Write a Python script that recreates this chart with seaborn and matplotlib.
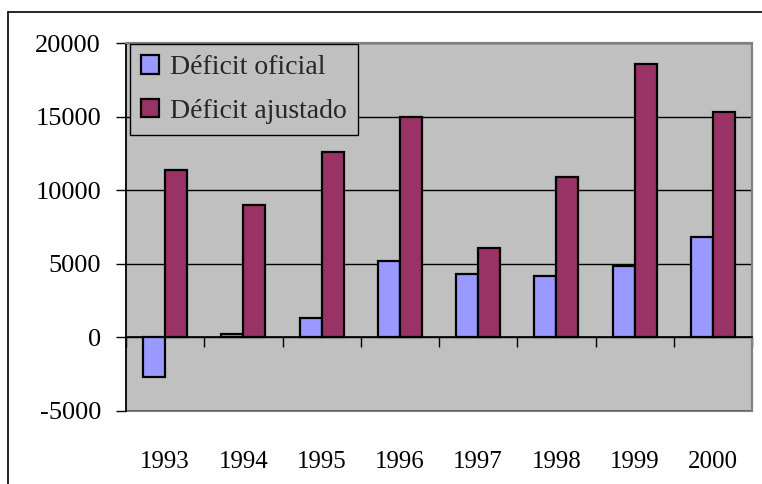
import seaborn as sns
import matplotlib.pyplot as plt
import pandas as pd
from matplotlib.lines import Line2D
from matplotlib.patches import Rectangle
from matplotlib.ticker import FixedLocator

# Data
years = ['1993', '1994', '1995', '1996', '1997', '1998', '1999', '2000']
deficit_oficial = [-2700, 250, 1300, 5200, 4300, 4150, 4850, 6850]
deficit_ajustado = [11400, 9000, 12600, 15000, 6050, 10900, 18600, 15350]
series = ['Déficit oficial', 'Déficit ajustado']
colors = ['#9999FF', '#993366']
y_ticks = [-5000, 0, 5000, 10000, 15000, 20000]

df = pd.DataFrame({
    'Ano': years * 2,
    'Valor': deficit_oficial + deficit_ajustado,
    'Serie': [series[0]] * len(years) + [series[1]] * len(years),
})

sns.set_style('white')
plt.rcParams['font.family'] = ['Liberation Serif', 'DejaVu Serif']
plt.rcParams['axes.unicode_minus'] = False

W, H = 762, 484
fig = plt.figure(figsize=(W / 100, H / 100), dpi=100)
left, right, top, bottom = 126, 752, 43.3, 410.7
ax = fig.add_axes([left / W, 1 - bottom / H, (right - left) / W, (bottom - top) / H])

sns.barplot(data=df, x='Ano', y='Valor', hue='Serie', palette=colors,
            width=0.56, edgecolor='black', linewidth=1.6, saturation=1,
            ax=ax)

# Plot area look
ax.set_facecolor('#C0C0C0')
ax.set_xlim(-0.5, len(years) - 0.5)
ax.set_ylim(y_ticks[0], y_ticks[-1])
ax.set_yticks(y_ticks)
ax.yaxis.grid(True, color='black', lw=1)
ax.set_axisbelow(True)
ax.set_xlabel('')
ax.set_ylabel('')

for s in ['top', 'right']:
    ax.spines[s].set_color('#808080')
    ax.spines[s].set_linewidth(1.5)
ax.spines['left'].set_color('black')
ax.spines['left'].set_linewidth(1.2)
ax.spines['bottom'].set_position(('data', 0))
ax.spines['bottom'].set_color('black')
ax.spines['bottom'].set_linewidth(1.2)
ax.add_patch(Rectangle((0, 0), 1, 1, transform=ax.transAxes, fill=False,
                       edgecolor='#808080', lw=1.5, clip_on=False, zorder=0.5))

ax.tick_params(axis='y', left=True, direction='out', length=7, width=1,
               color='black', pad=11, labelsize=19, labelcolor='black')
ax.tick_params(axis='x', which='major', bottom=True, length=0, pad=82,
               labelsize=18, labelcolor='black')
ax.xaxis.set_minor_locator(FixedLocator([i + 0.5 for i in range(-1, len(years))]))
ax.tick_params(axis='x', which='minor', bottom=True, direction='out',
               length=7, width=1, color='black')

leg = ax.legend(loc='upper left', bbox_to_anchor=(0.0064, 0.998),
                frameon=True, fancybox=False, facecolor='#C0C0C0',
                edgecolor='black', framealpha=1, fontsize=20,
                handlelength=0.64, handleheight=0.64, handletextpad=0.4,
                borderpad=0.4, labelspacing=0.68, borderaxespad=0)
leg.get_frame().set_linewidth(1)

# Outer chart frame (cut off on the right and bottom)
fig.add_artist(Line2D([8 / W, 8 / W], [0, 1 - 12 / H], color='black', lw=1.2,
                      transform=fig.transFigure))
fig.add_artist(Line2D([8 / W, 1], [1 - 12 / H, 1 - 12 / H], color='black', lw=1.2,
                      transform=fig.transFigure))

fig.savefig('out.png', dpi=100, facecolor='white')
